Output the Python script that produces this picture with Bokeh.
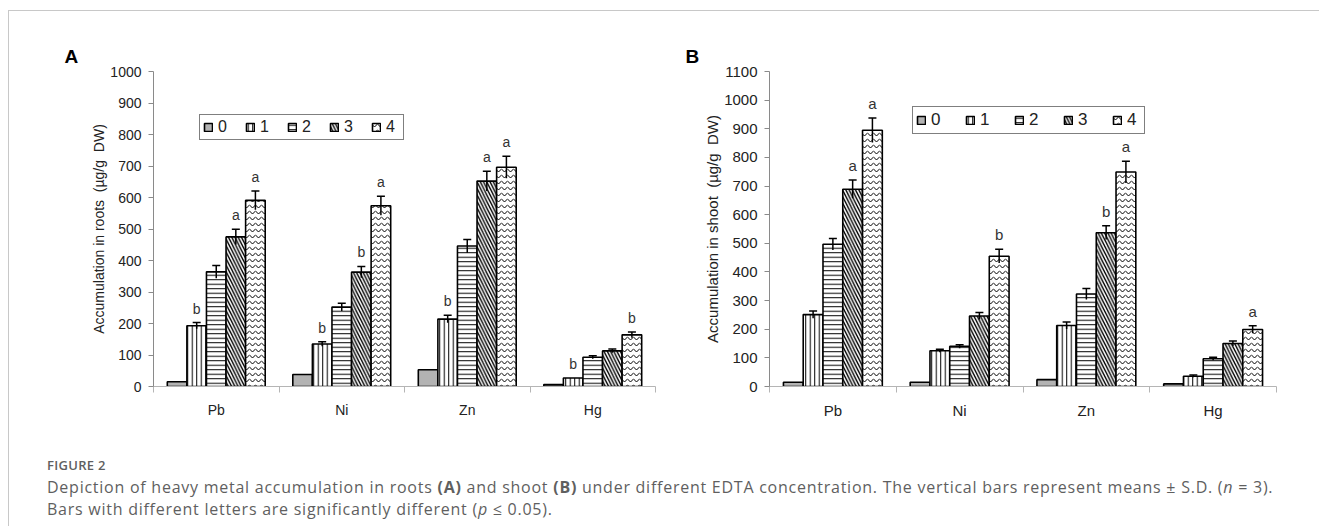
from bokeh.plotting import figure
from bokeh.models import (ColumnDataSource, Whisker, TeeHead, FixedTicker, Range1d,
                          Div, Legend, LegendItem)
from bokeh.layouts import row, column
from bokeh.core.properties import value
from bokeh.embed import file_html
from bokeh.resources import INLINE

# ---------------- data ----------------
metals = ["Pb", "Ni", "Zn", "Hg"]
levels = ["0", "1", "2", "3", "4"]

# Panel A: accumulation in roots (ug/g DW)
roots_0 = [15, 38, 53, 6]
roots_1 = [193, 135, 214, 27]
roots_2 = [364, 252, 446, 93]
roots_3 = [475, 363, 652, 113]
roots_4 = [591, 574, 696, 164]
roots_err_0 = [0, 0, 0, 0]
roots_err_1 = [10, 7, 12, 0]
roots_err_2 = [20, 12, 21, 5]
roots_err_3 = [24, 18, 31, 6]
roots_err_4 = [30, 30, 35, 9]
roots_let_0 = ["", "", "", ""]
roots_let_1 = ["b", "b", "b", "b"]
roots_let_2 = ["", "", "", ""]
roots_let_3 = ["a", "b", "a", ""]
roots_let_4 = ["a", "a", "a", "b"]

# Panel B: accumulation in shoot (ug/g DW)
shoot_0 = [15, 15, 24, 9]
shoot_1 = [251, 125, 213, 36]
shoot_2 = [497, 140, 323, 97]
shoot_3 = [689, 246, 537, 150]
shoot_4 = [895, 455, 749, 199]
shoot_err_0 = [0, 0, 0, 0]
shoot_err_1 = [13, 5, 12, 4]
shoot_err_2 = [20, 6, 19, 5]
shoot_err_3 = [32, 12, 24, 9]
shoot_err_4 = [43, 24, 38, 13]
shoot_let_0 = ["", "", "", ""]
shoot_let_1 = ["", "", "", ""]
shoot_let_2 = ["", "", "", ""]
shoot_let_3 = ["a", "", "b", ""]
shoot_let_4 = ["a", "b", "a", "a"]

# ---------------- styling ----------------
FILLS = ["#b3b3b3", "white", "white", "white", "white"]
HATCHES = [" ", "|", "-", "\\", "v"]
HSCALES = [4.5, 4.5, 4.5, 6.5, 6]
HWEIGHTS = [1, 1, 1, 1.4, 1]
FONT = "Liberation Sans"
BW = 0.156


def make_panel(title, ylabel, series, errs, lets, ymax, width, mb_left, mb_top,
               mb_bottom, mb_right, title_offset, legend_loc, fs, leg_fs, leg_sp):
    p = figure(width=width, height=432, x_range=Range1d(0, 4), y_range=Range1d(0, ymax),
               output_backend="svg", toolbar_location=None,
               min_border_left=mb_left, min_border_top=mb_top,
               min_border_bottom=mb_bottom, min_border_right=mb_right)
    p.outline_line_color = None
    p.grid.visible = False
    p.background_fill_color = "white"
    p.border_fill_color = "white"

    items = []
    for j, lvl in enumerate(levels):
        xs = [i + (1 - 5 * BW) / 2 + BW / 2 + j * BW for i in range(len(metals))]
        tops = series[j]
        src = ColumnDataSource(dict(x=xs, top=tops))
        r = p.vbar(x="x", top="top", bottom=0, width=BW, source=src,
                   fill_color=FILLS[j], line_color="black", line_width=1.6,
                   hatch_pattern=HATCHES[j], hatch_color="black",
                   hatch_scale=HSCALES[j], hatch_weight=HWEIGHTS[j])
        items.append(LegendItem(label=lvl, renderers=[r]))

        wx = [x for x, e in zip(xs, errs[j]) if e > 0]
        wu = [t + e for t, e in zip(tops, errs[j]) if e > 0]
        wl = [t - e for t, e in zip(tops, errs[j]) if e > 0]
        if wx:
            ws = ColumnDataSource(dict(x=wx, u=wu, l=wl))
            w = Whisker(base="x", upper="u", lower="l", source=ws,
                        line_color="black", line_width=1.5,
                        upper_head=TeeHead(size=8, line_width=1.5, line_color="black"),
                        lower_head=None, level="overlay")
            p.add_layout(w)

        lx = [x for x, s in zip(xs, lets[j]) if s]
        ly = [t + e for t, e, s in zip(tops, errs[j], lets[j]) if s]
        lt = [s for s in lets[j] if s]
        if lx:
            p.text(x=lx, y=ly, text=lt, text_align="center", text_baseline="bottom",
                   y_offset=-6, text_font=value(FONT), text_font_size=f"{fs}px",
                   text_color="#333333")

    legend = Legend(items=items, orientation="horizontal", location=legend_loc,
                    border_line_color="black", border_line_width=1,
                    background_fill_alpha=1, padding=3, spacing=leg_sp,
                    glyph_width=10, glyph_height=10, label_standoff=5,
                    label_width=14, label_height=14,
                    label_text_font=FONT, label_text_font_size=f"{leg_fs}px",
                    label_text_color="#222222")
    p.add_layout(legend)

    # y axis
    yax = p.yaxis[0]
    yax.ticker = FixedTicker(ticks=list(range(0, ymax + 1, 100)))
    yax.axis_line_color = "#8a8a8a"
    yax.major_tick_line_color = "#8a8a8a"
    yax.major_tick_out = 5
    yax.major_tick_in = 0
    yax.minor_tick_out = 0
    yax.minor_tick_in = 0
    yax.major_label_standoff = 7
    yax.major_label_text_font = FONT
    yax.major_label_text_font_size = f"{fs}px"
    yax.major_label_text_color = "#222222"
    yax.axis_label = ylabel
    yax.axis_label_text_font = FONT
    yax.axis_label_text_font_size = f"{fs}px"
    yax.axis_label_text_font_style = "normal"
    yax.axis_label_text_color = "#222222"
    yax.axis_label_standoff = 0

    # x axis
    xax = p.xaxis[0]
    xax.ticker = FixedTicker(ticks=[i + 0.5 for i in range(len(metals))],
                             minor_ticks=list(range(len(metals) + 1)))
    xax.major_label_overrides = {i + 0.5: m for i, m in enumerate(metals)}
    xax.axis_line_color = "#b5b5b5"
    xax.major_tick_out = 0
    xax.major_tick_in = 0
    xax.minor_tick_line_color = "#b5b5b5"
    xax.minor_tick_out = 6
    xax.minor_tick_in = 0
    xax.major_label_standoff = 9
    xax.major_label_text_font = FONT
    xax.major_label_text_font_size = f"{fs}px"
    xax.major_label_text_color = "#222222"

    p.title.text = title
    p.title.align = "left"
    p.title.offset = title_offset
    p.title.text_font = FONT
    p.title.text_font_size = "19px"
    p.title.text_font_style = "bold"
    p.title.text_color = "black"
    return p


pA = make_panel("A", "Accumulation in roots \u00a0(\u00b5g/g \u00a0DW)",
                [roots_0, roots_1, roots_2, roots_3, roots_4],
                [roots_err_0, roots_err_1, roots_err_2, roots_err_3, roots_err_4],
                [roots_let_0, roots_let_1, roots_let_2, roots_let_3, roots_let_4],
                1000, 654, 144, 60, 57, 8, -89, (46, 246), 14, 16, 13)
pB = make_panel("B", "Accumulation in shoot \u00a0(\u00b5g/g \u00a0DW)",
                [shoot_0, shoot_1, shoot_2, shoot_3, shoot_4],
                [shoot_err_0, shoot_err_1, shoot_err_2, shoot_err_3, shoot_err_4],
                [shoot_let_0, shoot_let_1, shoot_let_2, shoot_let_3, shoot_let_4],
                1100, 649, 106, 59, 53, 36, -84, (143, 252), 15, 17, 20)

caption = Div(width=1300, height=76, text=(
    '<div style="font-family:\'Open Sans\',sans-serif; color:#5f5f5f; padding-left:33px;">'
    '<div style="font-size:13px; font-weight:600; line-height:16px; margin-top:9px; letter-spacing:0.3px;">FIGURE 2</div>'
    '<div style="font-size:16px; line-height:22px; margin-top:3px; letter-spacing:0.75px; white-space:nowrap;">'
    'Depiction of heavy metal accumulation in roots <b>(A)</b> and shoot <b>(B)</b> under different '
    'EDTA concentration. The vertical bars represent means \u00b1 S.D. (<i>n</i> = 3).<br>'
    'Bars with different letters are significantly different (<i>p</i> \u2264 0.05).</div></div>'))

layout = column(row(pA, pB), caption,
                styles={"border-top": "1px solid #c8c8c8", "border-left": "1px solid #c8c8c8",
                        "margin-top": "10px", "margin-left": "8px"})

open("out.html", "w").write(file_html(layout, INLINE))
